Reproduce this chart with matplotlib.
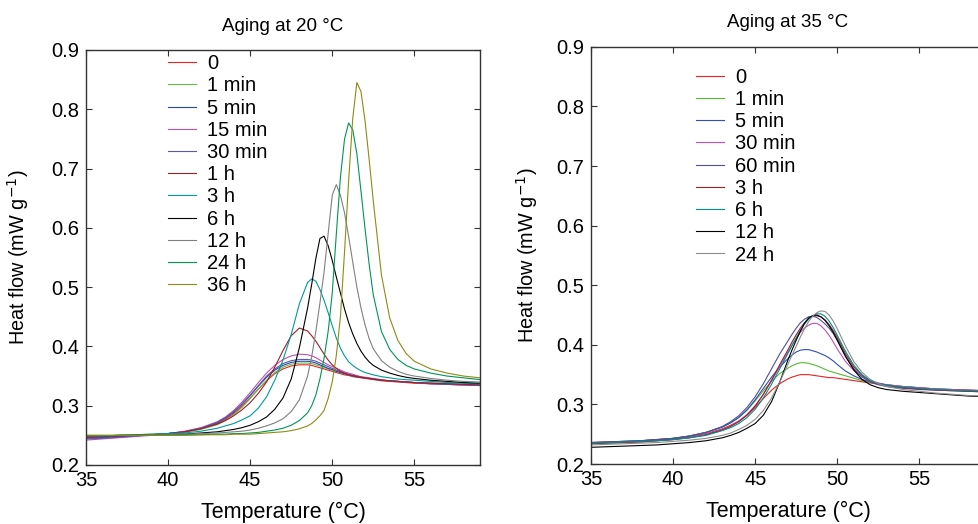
import matplotlib
matplotlib.use("Agg")
import matplotlib.pyplot as plt

plt.rcParams['font.family'] = ['Liberation Sans', 'DejaVu Sans']

# Temperaturas (°C) - panel izquierdo, envejecimiento a 20 °C
temp_20 = [35, 36, 37, 38, 39, 40, 41, 42, 43, 43.5, 44, 44.5, 45, 45.5, 46, 46.5, 47, 47.5, 48, 48.5,
           48.75, 49, 49.25, 49.5, 49.75, 50, 50.25, 50.5, 50.75, 51, 51.25, 51.5, 51.75, 52, 52.25, 52.5,
           53, 53.5, 54, 54.5, 55, 56, 57, 58, 59]

hf20_0 = [0.246, 0.247, 0.248, 0.250, 0.251, 0.253, 0.256, 0.261, 0.270, 0.277,
          0.287, 0.299, 0.313, 0.328, 0.342, 0.354, 0.362, 0.367, 0.369, 0.369,
          0.368, 0.366, 0.364, 0.362, 0.360, 0.358, 0.356, 0.354, 0.352, 0.351,
          0.349, 0.348, 0.347, 0.346, 0.345, 0.344, 0.342, 0.341, 0.340, 0.339,
          0.338, 0.337, 0.336, 0.335, 0.335]
hf20_1min = [0.249, 0.249, 0.250, 0.251, 0.252, 0.253, 0.255, 0.260, 0.268, 0.275,
             0.285, 0.297, 0.312, 0.328, 0.343, 0.356, 0.365, 0.370, 0.372, 0.372,
             0.371, 0.369, 0.367, 0.365, 0.362, 0.360, 0.358, 0.356, 0.354, 0.352,
             0.350, 0.349, 0.348, 0.347, 0.346, 0.345, 0.343, 0.342, 0.341, 0.340,
             0.339, 0.338, 0.337, 0.336, 0.336]
hf20_5min = [0.245, 0.246, 0.248, 0.249, 0.251, 0.253, 0.256, 0.262, 0.271, 0.279,
             0.289, 0.302, 0.317, 0.333, 0.348, 0.360, 0.368, 0.373, 0.375, 0.375,
             0.374, 0.372, 0.369, 0.366, 0.363, 0.361, 0.358, 0.356, 0.354, 0.352,
             0.350, 0.349, 0.348, 0.347, 0.346, 0.345, 0.343, 0.342, 0.341, 0.340,
             0.339, 0.338, 0.337, 0.336, 0.335]
hf20_15min = [0.242, 0.244, 0.246, 0.248, 0.250, 0.253, 0.257, 0.263, 0.273, 0.281,
              0.292, 0.306, 0.322, 0.339, 0.355, 0.368, 0.378, 0.384, 0.387, 0.386,
              0.384, 0.381, 0.377, 0.373, 0.369, 0.366, 0.363, 0.360, 0.357, 0.355,
              0.353, 0.351, 0.349, 0.348, 0.347, 0.346, 0.344, 0.342, 0.341, 0.340,
              0.339, 0.337, 0.336, 0.335, 0.334]
hf20_30min = [0.244, 0.245, 0.247, 0.249, 0.251, 0.253, 0.256, 0.262, 0.272, 0.280,
              0.290, 0.303, 0.318, 0.334, 0.350, 0.362, 0.371, 0.376, 0.378, 0.378,
              0.377, 0.375, 0.372, 0.369, 0.366, 0.363, 0.360, 0.357, 0.355, 0.353,
              0.351, 0.350, 0.348, 0.347, 0.346, 0.345, 0.343, 0.342, 0.341, 0.340,
              0.339, 0.337, 0.336, 0.335, 0.334]
hf20_1h = [0.247, 0.248, 0.249, 0.250, 0.251, 0.253, 0.256, 0.261, 0.269, 0.275,
           0.283, 0.293, 0.305, 0.321, 0.340, 0.365, 0.393, 0.418, 0.431, 0.426,
           0.418, 0.409, 0.398, 0.387, 0.377, 0.369, 0.363, 0.358, 0.355, 0.352,
           0.351, 0.349, 0.348, 0.347, 0.346, 0.345, 0.343, 0.342, 0.341, 0.340,
           0.339, 0.338, 0.337, 0.336, 0.335]
hf20_3h = [0.248, 0.249, 0.250, 0.251, 0.252, 0.253, 0.254, 0.257, 0.262, 0.266,
           0.270, 0.276, 0.283, 0.296, 0.315, 0.343, 0.377, 0.420, 0.472, 0.508,
           0.514, 0.510, 0.496, 0.478, 0.457, 0.435, 0.414, 0.397, 0.384, 0.374,
           0.368, 0.363, 0.359, 0.356, 0.354, 0.352, 0.349, 0.347, 0.345, 0.344,
           0.343, 0.341, 0.339, 0.338, 0.337]
hf20_6h = [0.249, 0.249, 0.250, 0.250, 0.251, 0.251, 0.252, 0.254, 0.256, 0.258,
           0.260, 0.263, 0.267, 0.273, 0.281, 0.294, 0.313, 0.345, 0.398, 0.465,
           0.505, 0.548, 0.582, 0.586, 0.570, 0.545, 0.517, 0.490, 0.463, 0.440,
           0.421, 0.405, 0.392, 0.382, 0.374, 0.368, 0.360, 0.355, 0.351, 0.348,
           0.346, 0.343, 0.341, 0.339, 0.338]
hf20_12h = [0.249, 0.249, 0.250, 0.250, 0.251, 0.251, 0.252, 0.253, 0.254, 0.255,
            0.256, 0.257, 0.259, 0.262, 0.266, 0.271, 0.278, 0.290, 0.310, 0.350,
            0.383, 0.425, 0.473, 0.525, 0.590, 0.655, 0.673, 0.655, 0.625, 0.585,
            0.542, 0.500, 0.465, 0.436, 0.413, 0.396, 0.376, 0.365, 0.358, 0.353,
            0.350, 0.346, 0.343, 0.341, 0.340]
hf20_24h = [0.250, 0.250, 0.250, 0.250, 0.250, 0.250, 0.251, 0.251, 0.252, 0.252,
            0.253, 0.253, 0.254, 0.255, 0.257, 0.259, 0.262, 0.267, 0.275, 0.288,
            0.300, 0.318, 0.345, 0.380, 0.425, 0.490, 0.590, 0.686, 0.750, 0.777,
            0.765, 0.725, 0.662, 0.598, 0.538, 0.487, 0.425, 0.395, 0.378, 0.368,
            0.362, 0.355, 0.350, 0.347, 0.344]
hf20_36h = [0.250, 0.250, 0.250, 0.250, 0.250, 0.250, 0.250, 0.251, 0.251, 0.251,
            0.252, 0.252, 0.252, 0.253, 0.254, 0.255, 0.256, 0.258, 0.261, 0.266,
            0.270, 0.276, 0.283, 0.292, 0.312, 0.340, 0.385, 0.450, 0.560, 0.680,
            0.785, 0.845, 0.830, 0.780, 0.715, 0.645, 0.520, 0.448, 0.410, 0.388,
            0.375, 0.362, 0.355, 0.350, 0.347]

labels_20 = ['0', '1 min', '5 min', '15 min', '30 min', '1 h', '3 h', '6 h', '12 h', '24 h', '36 h']
series_20 = [hf20_0, hf20_1min, hf20_5min, hf20_15min, hf20_30min, hf20_1h,
             hf20_3h, hf20_6h, hf20_12h, hf20_24h, hf20_36h]
colors_20 = ['#ee2222', '#66bb44', '#2848a8', '#c050b0', '#5a5aa4', '#a01e28',
             '#009a9a', '#000000', '#808080', '#009556', '#8c8c14']

# Temperaturas (°C) - panel derecho, envejecimiento a 35 °C
temp_35 = [35, 36, 37, 38, 39, 40, 41, 42, 43, 43.5, 44, 44.5, 45, 45.5, 46, 46.5, 47, 47.25, 47.5, 47.75,
           48, 48.25, 48.5, 48.75, 49, 49.25, 49.5, 49.75, 50, 50.5, 51, 51.5, 52, 52.5, 53,
           54, 55, 56, 57, 58, 59]

hf35_0 = [0.236, 0.237, 0.238, 0.239, 0.241, 0.243, 0.246, 0.251, 0.259, 0.265,
          0.272, 0.282, 0.295, 0.310, 0.324, 0.335, 0.343, 0.346, 0.348, 0.350,
          0.350, 0.350, 0.349, 0.348, 0.347, 0.346, 0.345, 0.345, 0.344, 0.342,
          0.340, 0.338, 0.336, 0.334, 0.332, 0.329, 0.327, 0.325, 0.324, 0.323, 0.322]
hf35_1min = [0.235, 0.236, 0.237, 0.238, 0.240, 0.243, 0.247, 0.253, 0.262, 0.269,
             0.278, 0.290, 0.306, 0.323, 0.339, 0.352, 0.361, 0.365, 0.368, 0.370,
             0.370, 0.369, 0.367, 0.365, 0.362, 0.359, 0.356, 0.354, 0.352, 0.348,
             0.344, 0.340, 0.337, 0.335, 0.333, 0.330, 0.328, 0.326, 0.325, 0.324, 0.323]
hf35_5min = [0.236, 0.237, 0.238, 0.239, 0.241, 0.243, 0.247, 0.253, 0.262, 0.269,
             0.278, 0.291, 0.308, 0.327, 0.346, 0.363, 0.377, 0.383, 0.388, 0.391,
             0.392, 0.392, 0.390, 0.388, 0.385, 0.382, 0.378, 0.373, 0.367, 0.356,
             0.348, 0.342, 0.338, 0.335, 0.333, 0.330, 0.328, 0.326, 0.325, 0.324, 0.323]
hf35_30min = [0.234, 0.235, 0.236, 0.237, 0.239, 0.241, 0.245, 0.250, 0.258, 0.264,
              0.272, 0.283, 0.298, 0.317, 0.340, 0.364, 0.388, 0.400, 0.411, 0.421,
              0.428, 0.433, 0.436, 0.436, 0.432, 0.425, 0.416, 0.405, 0.393, 0.372,
              0.357, 0.347, 0.340, 0.336, 0.333, 0.330, 0.328, 0.326, 0.325, 0.324, 0.323]
hf35_60min = [0.236, 0.237, 0.238, 0.239, 0.241, 0.243, 0.247, 0.253, 0.263, 0.271,
              0.281, 0.295, 0.313, 0.335, 0.360, 0.385, 0.407, 0.418, 0.428, 0.437,
              0.443, 0.447, 0.448, 0.446, 0.441, 0.435, 0.428, 0.419, 0.407, 0.380,
              0.360, 0.346, 0.338, 0.333, 0.330, 0.327, 0.325, 0.324, 0.323, 0.322, 0.321]
hf35_3h = [0.234, 0.235, 0.236, 0.237, 0.239, 0.241, 0.244, 0.249, 0.257, 0.263,
           0.271, 0.282, 0.297, 0.317, 0.341, 0.367, 0.392, 0.405, 0.417, 0.428,
           0.437, 0.444, 0.448, 0.449, 0.447, 0.442, 0.434, 0.424, 0.412, 0.385,
           0.363, 0.349, 0.340, 0.335, 0.332, 0.328, 0.326, 0.324, 0.323, 0.322, 0.321]
hf35_6h = [0.235, 0.236, 0.237, 0.238, 0.239, 0.241, 0.244, 0.248, 0.256, 0.261,
           0.268, 0.278, 0.292, 0.311, 0.334, 0.360, 0.386, 0.399, 0.412, 0.424,
           0.435, 0.443, 0.449, 0.452, 0.452, 0.448, 0.440, 0.429, 0.416, 0.389,
           0.366, 0.350, 0.340, 0.335, 0.332, 0.329, 0.327, 0.325, 0.324, 0.323, 0.322]
hf35_12h = [0.228, 0.229, 0.230, 0.231, 0.232, 0.234, 0.236, 0.239, 0.244, 0.248,
            0.253, 0.260, 0.268, 0.282, 0.305, 0.338, 0.375, 0.392, 0.408, 0.423,
            0.436, 0.445, 0.449, 0.450, 0.447, 0.441, 0.432, 0.421, 0.408, 0.381,
            0.358, 0.342, 0.333, 0.328, 0.325, 0.322, 0.320, 0.318, 0.316, 0.314, 0.313]
hf35_24h = [0.232, 0.233, 0.234, 0.235, 0.236, 0.238, 0.240, 0.243, 0.248, 0.252,
            0.258, 0.265, 0.275, 0.290, 0.311, 0.338, 0.368, 0.383, 0.398, 0.413,
            0.427, 0.439, 0.448, 0.454, 0.457, 0.456, 0.450, 0.440, 0.427, 0.398,
            0.372, 0.354, 0.342, 0.335, 0.330, 0.325, 0.322, 0.319, 0.317, 0.315, 0.314]

labels_35 = ['0', '1 min', '5 min', '30 min', '60 min', '3 h', '6 h', '12 h', '24 h']
series_35 = [hf35_0, hf35_1min, hf35_5min, hf35_30min, hf35_60min, hf35_3h,
             hf35_6h, hf35_12h, hf35_24h]
colors_35 = ['#ee2222', '#55bb33', '#3050b8', '#c050b8', '#505098', '#a02028',
             '#00908a', '#000000', '#8c8c8c']

xticks = [35, 40, 45, 50, 55]
yticks = [0.2, 0.3, 0.4, 0.5, 0.6, 0.7, 0.8, 0.9]


def dibujar_panel(ax, temps, series, labels, colors, titulo, leg_x, leg_y, ylab_x):
    for valores, etiqueta, color in zip(series, labels, colors):
        ax.plot(temps, valores, color=color, lw=0.8, label=etiqueta)
    ax.set_xlim(35, 59)
    ax.set_ylim(0.2, 0.9)
    ax.set_xticks(xticks)
    ax.set_yticks(yticks)
    ax.set_yticklabels([f'{v:.1f}' for v in yticks])
    ax.tick_params(direction='in', top=True, right=True, length=4, width=0.8,
                   labelsize=14.5, color='#333333')
    ax.tick_params(axis='x', pad=4)
    ax.tick_params(axis='y', pad=5)
    for s in ax.spines.values():
        s.set_color('#333333')
        s.set_linewidth(1.0)
    ax.set_title(titulo, fontsize=13.5, pad=14)
    ax.set_xlabel('Temperature (°C)', fontsize=15.5)
    ax.set_ylabel('Heat flow (mW g$^{-1}$)', fontsize=14.3)
    ax.xaxis.set_label_coords(0.5, -0.088)
    ax.yaxis.set_label_coords(ylab_x, 0.5)
    ax.legend(loc='upper left', bbox_to_anchor=(leg_x, leg_y), frameon=False,
              fontsize=14.5, handlelength=1.4, handletextpad=0.55,
              labelspacing=0.16, borderpad=0, borderaxespad=0)


fig = plt.figure(figsize=(9.79, 5.24), dpi=100)
ax1 = fig.add_axes([0.0878, 0.1126, 0.4025, 0.792])
ax2 = fig.add_axes([0.6037, 0.1145, 0.4025, 0.796])

dibujar_panel(ax1, temp_20, series_20, labels_20, colors_20, 'Aging at 20 °C', 0.208, 0.990, -0.14)
dibujar_panel(ax2, temp_35, series_35, labels_35, colors_35, 'Aging at 35 °C', 0.266, 0.950, -0.13)

fig.savefig('out.png', dpi=100)
